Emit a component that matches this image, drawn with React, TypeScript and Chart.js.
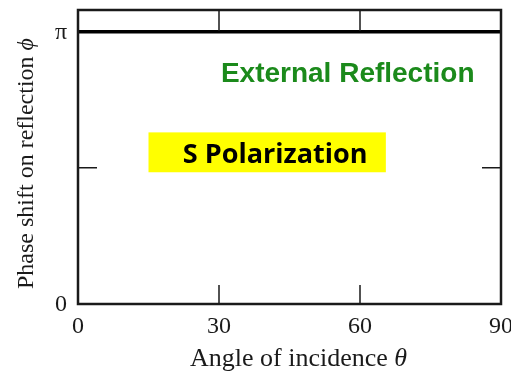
import { useEffect, useRef } from "react";
import { Chart, registerables } from "chart.js";

Chart.register(...registerables);

// Phase shift on reflection for s-polarized light, external reflection
const angles = [0, 90];
const phaseShift = [Math.PI, Math.PI];

const xTickValues = [0, 30, 60, 90];
const xTickLabels = ["0", "30", "60", "90"];
const yTickValues = [0, Math.PI / 2, Math.PI];
const yTickLabels = ["0", "", "π"];
const yMax = 3.392;

const SERIF = '"Liberation Serif", "DejaVu Serif", serif';

const framePlugin = {
  id: "framePlugin",
  afterDraw(chart: any) {
    const { ctx, chartArea, scales } = chart;
    const xs = scales.x;
    const ys = scales.y;
    const { left, right, top, bottom } = chartArea;
    ctx.save();

    // frame
    ctx.strokeStyle = "#1a1a1a";
    ctx.lineWidth = 2.5;
    ctx.strokeRect(left, top, right - left, bottom - top);

    // inward tick marks on all four sides
    const tickLen = 19;
    ctx.lineWidth = 1.5;
    ctx.beginPath();
    xTickValues.forEach((v) => {
      if (v === xs.min || v === xs.max) return;
      const px = xs.getPixelForValue(v);
      ctx.moveTo(px, bottom);
      ctx.lineTo(px, bottom - tickLen);
      ctx.moveTo(px, top);
      ctx.lineTo(px, top + tickLen + 2);
    });
    yTickValues.forEach((v) => {
      if (v === ys.min || v === Math.PI) return;
      const py = ys.getPixelForValue(v);
      ctx.moveTo(left, py);
      ctx.lineTo(left + tickLen, py);
      ctx.moveTo(right, py);
      ctx.lineTo(right - tickLen, py);
    });
    ctx.stroke();

    // tick labels
    ctx.fillStyle = "#1a1a1a";
    ctx.font = `24px ${SERIF}`;
    ctx.textAlign = "center";
    ctx.textBaseline = "alphabetic";
    xTickValues.forEach((v, i) => {
      ctx.fillText(xTickLabels[i], xs.getPixelForValue(v), bottom + 29);
    });
    ctx.textAlign = "right";
    ctx.textBaseline = "middle";
    yTickValues.forEach((v, i) => {
      if (!yTickLabels[i]) return;
      ctx.fillText(yTickLabels[i], left - 11, ys.getPixelForValue(v) + 1);
    });

    // axis titles: plain text followed by an italic symbol
    const drawTitle = (main: string, sym: string, size: number) => {
      ctx.font = `${size}px ${SERIF}`;
      const w1 = ctx.measureText(main).width;
      ctx.font = `italic ${size}px ${SERIF}`;
      const w2 = ctx.measureText(sym).width;
      const start = -(w1 + w2) / 2;
      ctx.textAlign = "left";
      ctx.textBaseline = "alphabetic";
      ctx.font = `${size}px ${SERIF}`;
      ctx.fillText(main, start, 0);
      ctx.font = `italic ${size}px ${SERIF}`;
      ctx.fillText(sym, start + w1, 0);
    };

    ctx.save();
    ctx.translate(298.5, bottom + 62);
    ctx.scale(1.04, 1);
    drawTitle("Angle of incidence ", "θ", 25);
    ctx.restore();

    ctx.save();
    ctx.translate(left - 45, (top + bottom) / 2 + 6.5);
    ctx.rotate(-Math.PI / 2);
    drawTitle("Phase shift on reflection ", "ϕ", 24);
    ctx.restore();

    // annotations
    ctx.font = 'bold 28px "Liberation Sans", Arial, sans-serif';
    ctx.fillStyle = "#1b8a1b";
    ctx.textAlign = "left";
    ctx.textBaseline = "alphabetic";
    ctx.fillText("External Reflection", xs.getPixelForValue(30.4), ys.getPixelForValue(2.561));

    const boxL = xs.getPixelForValue(15);
    const boxR = xs.getPixelForValue(65.5);
    const boxT = ys.getPixelForValue(1.98);
    const boxB = ys.getPixelForValue(1.52);
    ctx.fillStyle = "#ffff00";
    ctx.fillRect(boxL, boxT, boxR - boxL, boxB - boxT);

    ctx.save();
    ctx.translate(xs.getPixelForValue(22.3), ys.getPixelForValue(1.625));
    ctx.scale(1.04, 1);
    ctx.fillStyle = "#000000";
    ctx.font = 'bold 26px "Open Sans", Lato, sans-serif';
    ctx.fillText("S Polarization", 0, 0);
    ctx.restore();

    ctx.restore();
  },
};

export default function App() {
  const ref = useRef<HTMLCanvasElement | null>(null);

  useEffect(() => {
    if (!ref.current) return;
    const chart = new Chart(ref.current, {
      type: "line",
      data: {
        datasets: [
          {
            data: angles.map((a, i) => ({ x: a, y: phaseShift[i] })),
            borderColor: "#000000",
            borderWidth: 3.5,
            pointRadius: 0,
            tension: 0,
            clip: false as any,
          },
        ],
      },
      options: {
        responsive: false,
        animation: false,
        devicePixelRatio: 1,
        layout: { padding: { left: 78, right: 10, top: 10, bottom: 70 } },
        plugins: { legend: { display: false }, tooltip: { enabled: false } },
        scales: {
          x: { type: "linear", min: 0, max: 90, display: false },
          y: { type: "linear", min: 0, max: yMax, display: false },
        },
      },
      plugins: [framePlugin],
    });
    return () => chart.destroy();
  }, []);

  return (
    <div style={{ position: "fixed", left: 0, top: 0, width: 511, height: 374, background: "#fff" }}>
      <canvas ref={ref} width={511} height={374} />
    </div>
  );
}
